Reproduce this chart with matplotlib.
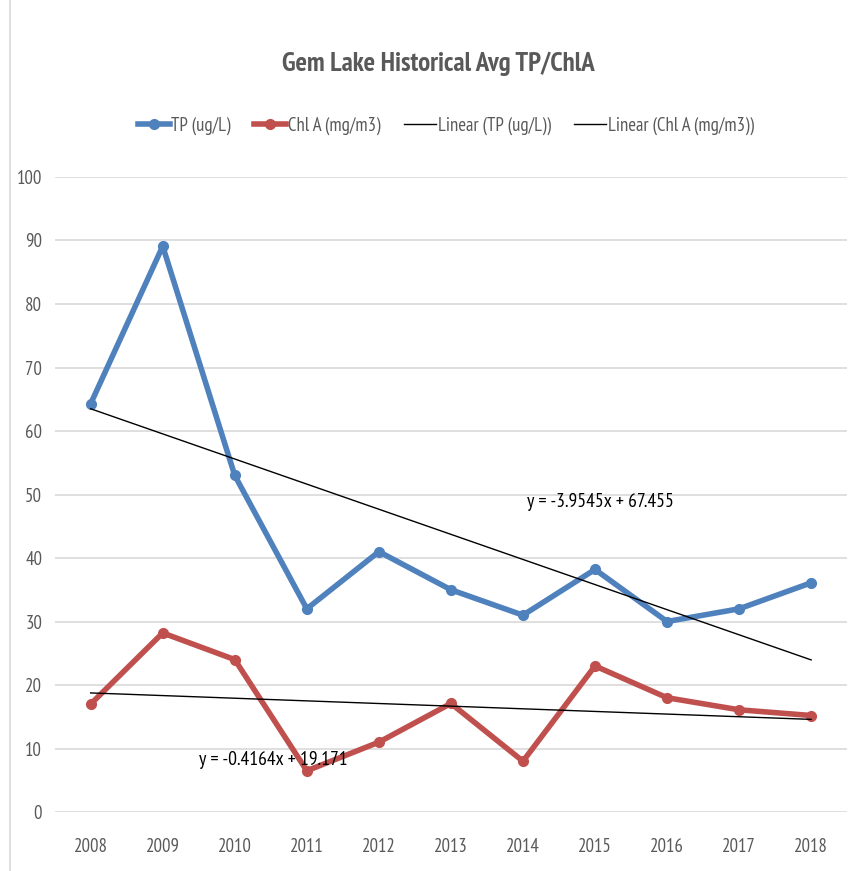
import matplotlib.pyplot as plt
import matplotlib.lines as mlines
import numpy as np

plt.rcParams['font.family'] = ['PT Sans Narrow', 'DejaVu Sans']

# 数据
years = ['2008', '2009', '2010', '2011', '2012', '2013', '2014', '2015', '2016', '2017', '2018']
tp = [64.3, 89.1, 53, 32, 41, 35, 31, 38.2, 30, 32, 36.1]
chla = [17, 28.2, 24, 6.5, 11, 17.1, 8, 23, 18, 16.1, 15.2]
# Excel 趋势线系数 (x = 1..11)
tp_slope, tp_icpt = -3.9545, 67.455
chl_slope, chl_icpt = -0.4164, 19.171

BLUE = '#4f81bd'
RED = '#c0504d'
GRAY = '#595959'

fig = plt.figure(figsize=(8.54, 8.71), dpi=100)
ax = fig.add_axes([0.064, 0.0677, 0.928, 0.7291])

x = np.arange(len(years))
n = x + 1
ax.plot(x, tp, color=BLUE, lw=4, marker='o', ms=7, solid_capstyle='round', zorder=3)
ax.plot(x, chla, color=RED, lw=4, marker='o', ms=7, solid_capstyle='round', zorder=3)
ax.plot(x, tp_slope * n + tp_icpt, color='black', lw=1, zorder=4)
ax.plot(x, chl_slope * n + chl_icpt, color='black', lw=1, zorder=4)

ax.text(7.07, 48.8, 'y = -3.9545x + 67.455', fontsize=14, ha='center', va='center', color='black')
ax.text(2.53, 8.2, 'y = -0.4164x + 19.171', fontsize=14, ha='center', va='center', color='black')

ax.set_xlim(-0.5, 10.5)
ax.set_ylim(0, 100)
ax.set_yticks(range(0, 101, 10))
ax.set_xticks(x)
ax.set_xticklabels(years)
ax.yaxis.grid(True, color='#d9d9d9', lw=1.2)
ax.set_axisbelow(True)
for s in ax.spines.values():
    s.set_visible(False)
ax.tick_params(length=0, labelsize=13.5, colors=GRAY)
ax.tick_params(axis='y', pad=9)
ax.tick_params(axis='x', pad=19)

fig.text(0.513, 0.927, 'Gem Lake Historical Avg TP/ChlA', ha='center', va='center',
         fontsize=19.4, fontweight='bold', color=GRAY)

handles = [
    mlines.Line2D([], [], color=BLUE, lw=4, marker='o', ms=7),
    mlines.Line2D([], [], color=RED, lw=4, marker='o', ms=7),
    mlines.Line2D([], [], color='black', lw=1),
    mlines.Line2D([], [], color='black', lw=1),
]
labels = ['TP (ug/L)', 'Chl A (mg/m3)', 'Linear (TP (ug/L))', 'Linear (Chl A (mg/m3))']
fig.legend(handles, labels, loc='center', bbox_to_anchor=(0.522, 0.856), ncol=4,
           frameon=False, fontsize=13.5, labelcolor=GRAY, handlelength=1.7,
           handletextpad=0.1, columnspacing=1.25)

# 左侧图表边框
fig.add_artist(mlines.Line2D([0.012, 0.012], [0, 1], color='#d9d9d9', lw=1.2))

plt.savefig('out.png', dpi=100)
plt.close()
